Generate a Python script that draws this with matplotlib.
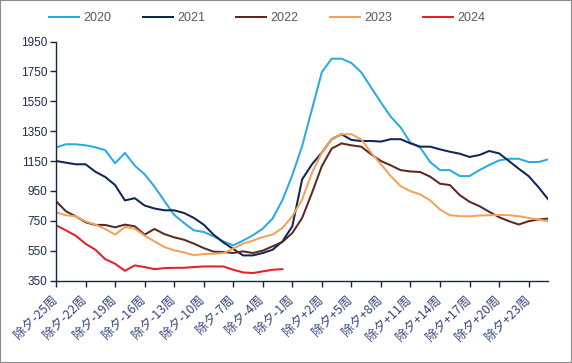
import numpy as np
import matplotlib
matplotlib.use("Agg")
import matplotlib.pyplot as plt
from matplotlib.patches import Rectangle

plt.rcParams['font.family'] = ['Liberation Sans', 'Noto Sans CJK SC', 'DejaVu Sans']

weeks = list(range(-25, 26))
categories = [f"除夕{w:+d}周" if w != 0 else "除夕" for w in weeks]

y2020 = [1240, 1262, 1262, 1255, 1242, 1222, 1135, 1204, 1119, 1061, 979, 883, 790,
         735, 686, 675, 646, 612, 585, 617, 653, 697, 765, 888, 1055,
         1250, 1497, 1745, 1835, 1835, 1806, 1744, 1643, 1542, 1446, 1375, 1273,
         1239, 1143, 1089, 1089, 1049, 1049, 1089, 1123, 1154, 1165, 1165, 1143, 1143, 1161]
y2021 = [1150, 1139, 1128, 1128, 1078, 1043, 989, 886, 901, 852, 832, 820, 820,
         802, 769, 724, 657, 605, 561, 518, 518, 534, 556, 612, 713,
         1027, 1128, 1206, 1296, 1329, 1291, 1284, 1284, 1280, 1296, 1296, 1268,
         1246, 1246, 1228, 1212, 1199, 1177, 1190, 1217, 1201, 1150, 1098, 1049, 975, 892]
y2022 = [881, 814, 780, 740, 722, 722, 706, 724, 713, 657, 695, 661, 639,
         623, 597, 567, 543, 541, 534, 545, 534, 550, 579, 608, 668,
         769, 937, 1116, 1233, 1268, 1255, 1246, 1195, 1150, 1121, 1089, 1080,
         1076, 1045, 998, 989, 922, 877, 848, 810, 774, 747, 725, 747, 758, 765]
y2023 = [807, 787, 780, 746, 724, 695, 657, 708, 697, 650, 612, 574, 552,
         538, 520, 527, 529, 534, 563, 597, 617, 641, 657, 702, 780,
         892, 1071, 1206, 1295, 1329, 1329, 1295, 1206, 1128, 1049, 982, 948,
         926, 886, 825, 787, 780, 780, 785, 787, 789, 787, 780, 769, 758, 747]
y2024 = [720, 686, 650, 596, 556, 493, 462, 415, 451, 440, 426, 433, 435,
         435, 440, 444, 444, 444, 422, 404, 400, 411, 422, 426]

series = [("2020", y2020, "#29abe2"),
          ("2021", y2021, "#0e2656"),
          ("2022", y2022, "#5a2a22"),
          ("2023", y2023, "#f4a15a"),
          ("2024", y2024, "#e61e28")]

W, H = 572, 363
fig = plt.figure(figsize=(W / 100, H / 100), dpi=100)
ax = fig.add_axes([56 / W, 1 - 280.5 / H, (548.3 - 56) / W, (280.5 - 41.5) / H])

x = np.arange(len(categories))
for name, vals, col in series:
    ax.plot(x[:len(vals)], vals, color=col, lw=1.45, label=name, solid_joinstyle='round')

ax.set_xlim(0, len(categories) - 1)
ax.set_ylim(350, 1950)
ax.set_yticks(np.arange(350, 1951, 200))
ax.set_xticks(x[::3])
ax.set_xticklabels(categories[::3], rotation=45, ha='right', va='center',
                   rotation_mode='anchor', fontsize=9, color='#34447a',
                   family=['Noto Sans CJK SC', 'DejaVu Sans'])
for lab in ax.get_yticklabels():
    lab.set_fontsize(8.5)
    lab.set_color('#1c2b4f')

spc = '#14244a'
for s in ['top', 'right']:
    ax.spines[s].set_visible(False)
for s in ['left', 'bottom']:
    ax.spines[s].set_color(spc)
    ax.spines[s].set_linewidth(1.0)
ax.tick_params(axis='both', colors=spc, length=4, width=1.0)
ax.tick_params(axis='x', pad=9, labelcolor='#34447a')
ax.tick_params(axis='y', pad=2, labelcolor='#1c2b4f')

leg = fig.legend(loc='center left', bbox_to_anchor=(49 / W, 1 - 18 / H), ncol=5,
                 frameon=False, borderpad=0, borderaxespad=0, handlelength=2.4,
                 handletextpad=0.35, columnspacing=2.5, fontsize=9)
for t in leg.get_texts():
    t.set_color('#595959')

fig.patches.append(Rectangle((0, 0), 1, 1, transform=fig.transFigure, fill=False,
                             edgecolor='#8c8c8c', lw=1.5))

fig.savefig("out.png", dpi=100)
